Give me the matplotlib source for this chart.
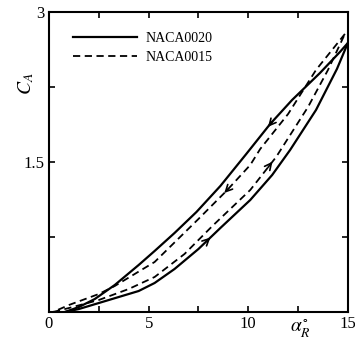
import numpy as np
import matplotlib
matplotlib.use("Agg")
import matplotlib.pyplot as plt

plt.rcParams['font.family'] = ['Liberation Serif', 'DejaVu Serif']
plt.rcParams['mathtext.fontset'] = 'stix'

# NACA0020 (solid) - upstroke (lower) and downstroke (upper) branches
a20_up = [0.8, 1.5, 2.5, 3.5, 4.5, 5.3, 6.3, 7.5, 8.6, 10.1, 11.2, 12.1, 13.4, 14.45, 15.0]
c20_up = [0.0, 0.03, 0.09, 0.15, 0.21, 0.29, 0.43, 0.63, 0.84, 1.12, 1.37, 1.62, 2.02, 2.43, 2.69]
a20_dn = [15.0, 14.6, 13.6, 12.2, 11.1, 9.9, 8.6, 7.4, 6.3, 5.3, 4.5, 3.3, 2.3, 1.5, 0.8]
c20_dn = [2.69, 2.60, 2.39, 2.12, 1.88, 1.58, 1.26, 1.00, 0.79, 0.61, 0.47, 0.27, 0.13, 0.05, 0.0]

# NACA0015 (dashed)
a15_up = [0.2, 1.0, 2.5, 4.0, 5.3, 6.8, 8.2, 10.1, 11.4, 13.0, 14.0, 14.85]
c15_up = [0.0, 0.04, 0.12, 0.23, 0.35, 0.58, 0.86, 1.22, 1.55, 2.05, 2.42, 2.78]
a15_dn = [14.85, 13.4, 12.0, 10.6, 10.1, 8.9, 7.5, 5.3, 3.3, 2.5, 1.0, 0.2]
c15_dn = [2.78, 2.42, 1.98, 1.63, 1.47, 1.21, 0.93, 0.50, 0.26, 0.18, 0.07, 0.0]

fig = plt.figure(figsize=(3.55, 3.41), dpi=100)
ax = fig.add_axes([0.138, 0.085, 0.842, 0.880])

ax.plot(a20_up, c20_up, 'k-', lw=1.6)
ax.plot(a20_dn, c20_dn, 'k-', lw=1.6, label='NACA0020')
ax.plot(a15_up, c15_up, 'k--', lw=1.3, dashes=(4, 2.5))
ax.plot(a15_dn, c15_dn, 'k--', lw=1.3, dashes=(4, 2.5), label='NACA0015')

# direction arrows along the branches
def arrow_on(xs, ys, at, back):
    order = np.argsort(xs)
    xs_s = np.array(xs)[order]
    ys_s = np.array(ys)[order]
    y1 = np.interp(at, xs_s, ys_s)
    y0 = np.interp(at - back, xs_s, ys_s)
    ax.annotate('', xy=(at, y1), xytext=(at - back, y0),
                arrowprops=dict(arrowstyle='->', color='k', lw=1.2,
                                mutation_scale=12))

arrow_on(a20_up, c20_up, 8.2, 0.4)
arrow_on(a15_up, c15_up, 11.3, 0.4)
arrow_on(a20_dn, c20_dn, 10.9, -0.4)
arrow_on(a15_dn, c15_dn, 8.7, -0.4)

ax.set_xlim(0, 15)
ax.set_ylim(0, 3)
ax.set_xticks([0, 5, 10, 15])
ax.set_xticks([2.5, 7.5, 12.5], minor=True)
ax.set_yticks([0.75, 1.5, 2.25, 3])
ax.set_yticklabels(['', '1.5', '', '3'])
ax.tick_params(which='both', direction='in', top=True, right=True,
               length=4, width=1.2, labelsize=12, pad=3)
for s in ax.spines.values():
    s.set_linewidth(1.5)

ax.text(12.6, -0.06, r'$\alpha_R^{\circ}$', fontsize=14, ha='center', va='top')
ax.text(-0.075, 0.76, r'$C_A$', fontsize=14, rotation=90, ha='center',
        va='center', transform=ax.transAxes)

leg = ax.legend(loc='upper left', bbox_to_anchor=(0.04, 0.975), frameon=False,
                fontsize=10, handlelength=4.6, handletextpad=0.6,
                labelspacing=0.45)

fig.savefig('out.png', dpi=100)
